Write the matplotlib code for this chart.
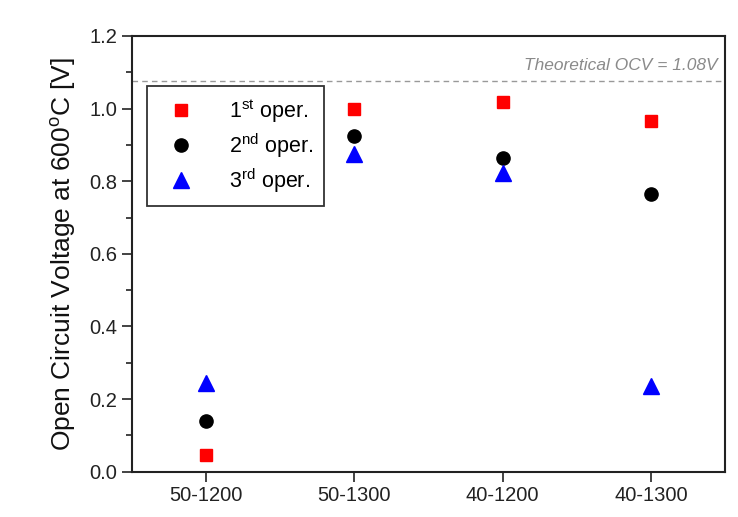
import numpy as np
import matplotlib
matplotlib.use('Agg')
import matplotlib.pyplot as plt
from matplotlib.ticker import MultipleLocator

plt.rcParams['font.family'] = ['Liberation Sans', 'DejaVu Sans']
plt.rcParams['mathtext.fontset'] = 'custom'
plt.rcParams['mathtext.rm'] = 'Liberation Sans'
plt.rcParams['mathtext.it'] = 'Liberation Sans:italic'

# datos
muestras = ['50-1200', '50-1300', '40-1200', '40-1300']
oper1 = [0.046, 1.000, 1.018, 0.966]
oper2 = [0.140, 0.924, 0.865, 0.764]
oper3 = [0.245, 0.874, 0.823, 0.236]
ocv_teorico = 1.075

x = np.arange(len(muestras))

fig = plt.figure(figsize=(7.38, 5.17), dpi=100)
ax = fig.add_axes([0.1789, 0.0876, 0.8035, 0.8428])

ax.plot(x, oper1, 's', color='#ff0000', markersize=9, linestyle='none', label=r'1$^{\mathrm{st}}$ oper.')
ax.plot(x, oper2, 'o', color='black', markersize=9.5, linestyle='none', label=r'2$^{\mathrm{nd}}$ oper.')
ax.plot(x, oper3, '^', color='#0000ff', markersize=11, linestyle='none', label=r'3$^{\mathrm{rd}}$ oper.')

ax.axhline(ocv_teorico, color='#999999', linestyle=(0, (4, 3)), linewidth=1)
ax.text(3.45, ocv_teorico + 0.022, 'Theoretical OCV = 1.08V', ha='right', va='bottom',
        style='italic', color='#8a8a8a', fontsize=12.5)

ax.set_xlim(-0.5, 3.5)
ax.set_ylim(0, 1.2)
ax.set_xticks(x)
ax.set_xticklabels(muestras, fontsize=15)
ax.yaxis.set_major_locator(MultipleLocator(0.2))
ax.yaxis.set_minor_locator(MultipleLocator(0.1))
ax.yaxis.set_major_formatter(matplotlib.ticker.FormatStrFormatter('%.1f'))

ax.tick_params(axis='both', which='major', direction='out', length=7, width=1.2,
               labelsize=14.5, colors='#222222', labelcolor='#222222')
ax.tick_params(axis='y', which='minor', direction='out', length=4, width=1.2, colors='#222222')
ax.tick_params(top=False, right=False)
for s in ax.spines.values():
    s.set_linewidth(1.5)
    s.set_color('#222222')

ax.set_ylabel(r'Open Circuit Voltage at 600$^{\mathrm{o}}$C [V]', fontsize=19, color='#111111', labelpad=8)

leg = ax.legend(loc='upper left', bbox_to_anchor=(0.025, 0.885), borderaxespad=0,
                fontsize=15.5, frameon=True, fancybox=False, edgecolor='black',
                handletextpad=1.1, borderpad=0.5, labelspacing=0.3, handlelength=2.2)
leg.get_frame().set_linewidth(1.3)

plt.savefig('out.png', dpi=100)
